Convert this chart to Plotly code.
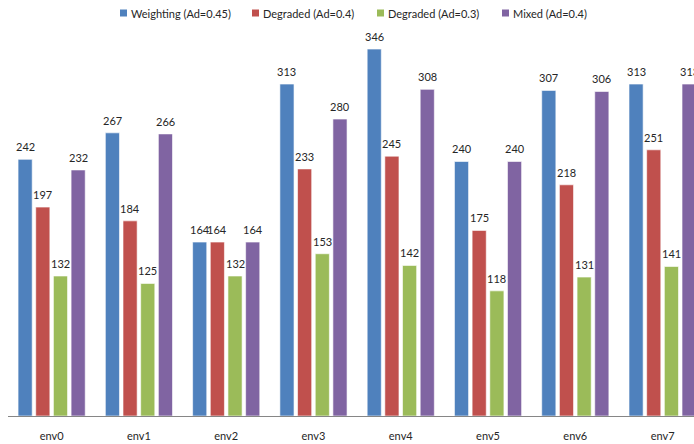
import plotly.graph_objects as go

# Environments on the category axis
envs = ["env0", "env1", "env2", "env3", "env4", "env5", "env6", "env7"]

# Scores per strategy
weighting_045 = [242, 267, 164, 313, 346, 240, 307, 313]
degraded_04 = [197, 184, 164, 233, 245, 175, 218, 251]
degraded_03 = [132, 125, 132, 153, 142, 118, 131, 141]
mixed_04 = [232, 266, 164, 280, 308, 240, 306, 313]

series = [
    ("Weighting (Ad=0.45)", weighting_045, "#4F81BD"),
    ("Degraded (Ad=0.4)", degraded_04, "#C0504D"),
    ("Degraded (Ad=0.3)", degraded_03, "#9BBB59"),
    ("Mixed (Ad=0.4)", mixed_04, "#8064A2"),
]

FONT = "Lato, Open Sans, sans-serif"
TXT = "#262626"
BARGAP = 0.19
GROUPGAP = 0.2

fig = go.Figure()
for name, vals, color in series:
    fig.add_trace(go.Bar(
        name=name,
        x=envs,
        y=vals,
        marker=dict(color=color, line=dict(color="rgba(255,255,255,0.6)", width=1)),
        showlegend=False,
    ))

# Value labels above each bar, centred on that bar's slot within the group
n = len(series)
slot = (1 - BARGAP) / n
annotations = []
for k, (name, vals, color) in enumerate(series):
    off = (k - (n - 1) / 2) * slot
    for i, v in enumerate(vals):
        annotations.append(dict(
            x=i + off, y=v, xref="x", yref="y",
            text=str(v), showarrow=False,
            xanchor="center", yanchor="bottom", yshift=4,
            font=dict(family=FONT, size=11, color=TXT),
        ))

# Legend row across the top: swatch plus caption for each series
legend_px = [120, 252, 377, 502]   # left edge of each swatch, in page pixels
plot_left, plot_w = 8, 686
shapes = []
for (name, vals, color), px in zip(series, legend_px):
    x0 = (px - plot_left) / plot_w
    x1 = (px + 7 - plot_left) / plot_w
    shapes.append(dict(
        type="rect", xref="paper", yref="paper",
        x0=x0, x1=x1, y0=1.0 - 3.5 / 403 + 0.0, y1=1.0 + 3.5 / 403,
        fillcolor=color, line=dict(width=0),
    ))
    annotations.append(dict(
        x=(px + 9 - plot_left) / plot_w, y=1.0, xref="paper", yref="paper",
        text=name, showarrow=False, xanchor="left", yanchor="middle",
        font=dict(family=FONT, size=11, color=TXT),
    ))

fig.update_layout(
    width=694,
    height=444,
    margin=dict(l=8, r=0, t=13, b=28),
    paper_bgcolor="white",
    plot_bgcolor="white",
    barmode="group",
    bargap=BARGAP,
    bargroupgap=GROUPGAP,
    font=dict(family=FONT, size=11, color=TXT),
    showlegend=False,
    annotations=annotations,
    shapes=shapes,
)

fig.update_xaxes(
    range=[-0.5, 7.36],
    showline=True,
    linecolor="#868686",
    linewidth=1,
    ticks="",
    showgrid=False,
    ticklabelstandoff=10,
    tickfont=dict(size=11, color=TXT),
)
fig.update_yaxes(
    range=[0, 380],
    showgrid=False,
    showticklabels=False,
    zeroline=False,
    showline=False,
)

fig.write_html("out.html")
